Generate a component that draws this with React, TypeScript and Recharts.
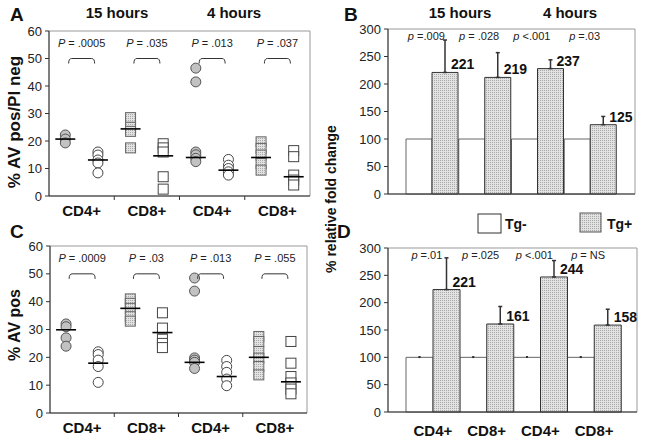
import React from "react";
import {
  ScatterChart,
  Scatter,
  BarChart,
  Bar,
  XAxis,
  YAxis,
  ErrorBar,
  LabelList,
  ReferenceDot,
  CartesianGrid,
} from "recharts";

const FONT = "'Liberation Sans', Arial, Helvetica, sans-serif";

// x categories (same for all four panels)
const groupLabels = ["CD4+", "CD8+", "CD4+", "CD8+"];
const timeLabels = ["15 hours", "4 hours"];

// A: % AV pos/PI neg, slots = Tg+ / Tg- for each group
const aValues = [
  [22.2, 20.7, 19.3],
  [16, 14.9, 13.1, 12, 8.4],
  [28.5, 25, 23.5, 17.5],
  [19, 17.5, 16, 7, 2.5],
  [46.5, 41.5, 16, 15, 13.7, 12.5],
  [13.3, 11.2, 10, 8.8, 7.6],
  [19.7, 17.3, 14.9, 11.8, 9.4],
  [16.5, 14.3, 7.6, 5.8, 4],
];
const aMeans = [20.7, 13.1, 24.4, 14.6, 14, 9.4, 14, 7];
const aPText = ["= .0005", "= .035", "= .013", "= .037"];

// C: % AV pos
const cValues = [
  [32, 31, 27, 24],
  [22, 21, 19, 16.7, 11],
  [41, 39.4, 37.6, 34.6, 33],
  [36, 30.5, 26.5, 25, 23.5],
  [48.5, 43.8, 19.8, 19, 18.2, 16],
  [18.9, 16.7, 14.6, 12.2, 9.8],
  [27.5, 25.7, 22.1, 19.7, 16.7, 13.7],
  [25.7, 17.9, 13.1, 10.8, 8.6, 6.9],
];
const cMeans = [29.9, 17.9, 37.6, 28.9, 18.2, 13.1, 20, 11.2];
const cPText = ["= .0009", "= .03", "= .013", "= .055"];

// B: % relative fold change (AV pos/PI neg)
const bTgNeg = [100, 100, 100, 100];
const bTgPos = [221, 212, 228, 126];
const bTgPosErr = [59, 45, 16, 15];
const bLabels = ["221", "219", "237", "125"];
const bPText = ["=.009", "= .028", "<.001", "=.03"];

// D: % relative fold change (AV pos)
const dTgNeg = [100, 100, 100, 100];
const dTgNegErr = [1, 1, 1, 1];
const dTgPos = [224, 161, 247, 159];
const dTgPosErr = [58, 32, 30, 29];
const dLabels = ["221", "161", "244", "158"];
const dPText = ["=.01", "=.025", "<.001", "= NS"];

const bracketY = 50;
const pBarY = 287;

const catKeys = groupLabels.map((g, i) => `${g}|${i}`);

function Dots({ id }: { id: string }) {
  return (
    <defs>
      <pattern id={id} width={2} height={2} patternUnits="userSpaceOnUse">
        <rect width={2} height={2} fill="#e2e2e2" />
        <rect width={1} height={1} fill="#aaa" />
      </pattern>
    </defs>
  );
}

const boxH = ({ offset }: any) =>
  offset ? [offset.top, offset.top + offset.height] : [];
const boxV = ({ offset }: any) =>
  offset ? [offset.left, offset.left + offset.width] : [];

function PLabel({ cx, cy, sym, text }: any) {
  return (
    <text
      x={cx}
      y={cy}
      textAnchor="middle"
      dominantBaseline="central"
      fontSize={11}
      fill="#222"
      fontFamily={FONT}
    >
      <tspan fontStyle="italic">{sym}</tspan>
      {" " + text}
    </text>
  );
}

function Bracket({ cx, cy, text }: any) {
  return (
    <g>
      <path
        d={`M${cx - 13},${cy + 5} Q${cx - 13},${cy} ${cx - 10},${cy} L${cx + 10},${cy} Q${cx + 13},${cy} ${cx + 13},${cy + 5}`}
        fill="none"
        stroke="#333"
        strokeWidth={1}
      />
      <PLabel cx={cx} cy={cy - 16} sym="P" text={text} />
    </g>
  );
}

const shapes = [
  (p: any) => <circle cx={p.cx} cy={p.cy} r={5} fill="#c2c2c2" stroke="#555" />,
  (p: any) => <circle cx={p.cx} cy={p.cy} r={5} fill="#fff" stroke="#444" />,
  (p: any) => (
    <rect x={p.cx - 5} y={p.cy - 5} width={10} height={10} fill="url(#dotsPt)" stroke="#666" />
  ),
  (p: any) => (
    <rect x={p.cx - 5} y={p.cy - 5} width={10} height={10} fill="#fff" stroke="#444" />
  ),
];

const MeanBar = (p: any) => (
  <line x1={p.cx - 10} x2={p.cx + 10} y1={p.cy} y2={p.cy} stroke="#000" strokeWidth={1.6} />
);

function DotPanel({ values, means, pText, width, height, margin, yWidth, xHeight, labelDy }: any) {
  const slots = values.length;
  const series = shapes.map((_, k) =>
    values.flatMap((vals: number[], s: number) =>
      s % 4 === k ? vals.map((v) => ({ x: s + 0.5, y: v })) : []
    )
  );
  const meanData = means.map((m: number, s: number) => ({ x: s + 0.5, y: m }));
  const xTicks = Array.from({ length: slots + 1 }, (_, i) => i);

  const tick = ({ x, y, payload }: any) => {
    const v = payload.value;
    if (v % 2 === 1)
      return (
        <text x={x} y={y + labelDy} textAnchor="middle" fontWeight="bold" fontSize={15} fill="#111" fontFamily={FONT}>
          {groupLabels[(v - 1) / 2]}
        </text>
      );
    if (v > 0 && v < slots) return <line x1={x} x2={x} y1={y} y2={y + 4} stroke="#333" />;
    return <g />;
  };

  return (
    <ScatterChart width={width} height={height} margin={margin}>
      <Dots id="dotsPt" />
      <CartesianGrid
        stroke="#999"
        horizontalCoordinatesGenerator={boxH}
        verticalCoordinatesGenerator={boxV}
      />
      <XAxis
        type="number"
        dataKey="x"
        domain={[0, slots]}
        ticks={xTicks}
        interval={0}
        tick={tick}
        tickLine={false}
        tickSize={0}
        tickMargin={0}
        stroke="#333"
        height={xHeight}
      />
      <YAxis
        type="number"
        dataKey="y"
        domain={[0, 60]}
        ticks={[0, 10, 20, 30, 40, 50, 60]}
        width={yWidth}
        tickSize={4}
        tickMargin={3}
        stroke="#333"
        tick={{ fontSize: 13, fill: "#222", fontFamily: FONT }}
      />
      {series.map((data, k) => (
        <Scatter key={k} data={data} shape={shapes[k]} isAnimationActive={false} />
      ))}
      <Scatter data={meanData} shape={MeanBar} isAnimationActive={false} />
      {pText.map((t: string, i: number) => (
        <ReferenceDot
          key={i}
          x={i * 2 + 1}
          y={bracketY}
          r={0}
          shape={(p: any) => <Bracket cx={p.cx} cy={p.cy} text={t} />}
        />
      ))}
    </ScatterChart>
  );
}

function BarPanel({ id, neg, negErr, pos, posErr, labels, pText, showX, width, height, margin, xHeight, padRight }: any) {
  const data = catKeys.map((key, i) => ({
    key,
    neg: neg[i],
    negErr: negErr ? [0, negErr[i]] : undefined,
    pos: pos[i],
    posErr: [0, posErr[i]],
    label: labels[i],
  }));

  const ValueLabel = (p: any) => (
    <text
      x={p.x + p.width / 2 + 6}
      y={p.y - 3}
      fontWeight="bold"
      fontSize={14}
      fill="#111"
      fontFamily={FONT}
    >
      {p.value}
    </text>
  );

  const tick = ({ x, y, payload }: any) => (
    <text x={x} y={y + 24} textAnchor="middle" fontWeight="bold" fontSize={15} fill="#111" fontFamily={FONT}>
      {String(payload.value).split("|")[0]}
    </text>
  );

  return (
    <BarChart width={width} height={height} data={data} margin={margin} barCategoryGap={0} barGap={0}>
      <Dots id={id} />
      <CartesianGrid
        stroke="#999"
        horizontalCoordinatesGenerator={boxH}
        verticalCoordinatesGenerator={boxV}
      />
      <XAxis
        dataKey="key"
        tick={showX ? tick : false}
        tickLine={false}
        tickSize={0}
        tickMargin={0}
        stroke="#333"
        height={xHeight}
        padding={{ left: 18, right: padRight }}
        interval={0}
      />
      <YAxis
        domain={[0, 300]}
        ticks={[0, 50, 100, 150, 200, 250, 300]}
        width={68}
        tickSize={4}
        tickMargin={3}
        stroke="#333"
        tick={{ fontSize: 13, fill: "#222", fontFamily: FONT }}
      />
      <Bar dataKey="neg" fill="#fff" stroke="#666" isAnimationActive={false}>
        {negErr && <ErrorBar dataKey="negErr" width={1} stroke="#333" direction="y" />}
      </Bar>
      <Bar dataKey="pos" fill={`url(#${id})`} stroke="#333" isAnimationActive={false}>
        <ErrorBar dataKey="posErr" width={2} stroke="#333" direction="y" />
        <LabelList dataKey="label" content={ValueLabel} />
      </Bar>
      {pText.map((t: string, i: number) => (
        <ReferenceDot
          key={i}
          x={catKeys[i]}
          y={pBarY}
          r={0}
          shape={(p: any) => <PLabel cx={p.cx - 6} cy={p.cy} sym="p" text={t} />}
        />
      ))}
    </BarChart>
  );
}

export default function App() {
  const bold = { fontWeight: "bold", fill: "#111", fontFamily: FONT } as any;
  return (
    <div
      style={{
        position: "absolute",
        left: 0,
        top: 0,
        width: 645,
        height: 445,
        background: "#fff",
        fontFamily: FONT,
      }}
    >
      <div style={{ position: "absolute", left: 0, top: 0 }}>
        <DotPanel
          values={aValues}
          means={aMeans}
          pText={aPText}
          width={320}
          height={220}
          margin={{ top: 31, right: 10, bottom: 0, left: 0 }}
          yWidth={49}
          xHeight={24}
          labelDy={20}
        />
      </div>
      <div style={{ position: "absolute", left: 0, top: 220 }}>
        <DotPanel
          values={cValues}
          means={cMeans}
          pText={cPText}
          width={320}
          height={225}
          margin={{ top: 26, right: 13, bottom: 0, left: 0 }}
          yWidth={50}
          xHeight={32}
          labelDy={20}
        />
      </div>
      <div style={{ position: "absolute", left: 320, top: 0 }}>
        <BarPanel
          id="dotsB"
          neg={bTgNeg}
          pos={bTgPos}
          posErr={bTgPosErr}
          labels={bLabels}
          pText={bPText}
          showX={false}
          width={325}
          height={220}
          margin={{ top: 29, right: 10, bottom: 0, left: 0 }}
          xHeight={26}
          padRight={18}
        />
      </div>
      <div style={{ position: "absolute", left: 320, top: 220 }}>
        <BarPanel
          id="dotsD"
          neg={dTgNeg}
          negErr={dTgNegErr}
          pos={dTgPos}
          posErr={dTgPosErr}
          labels={dLabels}
          pText={dPText}
          showX={true}
          width={325}
          height={225}
          margin={{ top: 28, right: 8, bottom: 0, left: 0 }}
          xHeight={33}
          padRight={16}
        />
      </div>
      <svg
        width={645}
        height={445}
        style={{ position: "absolute", left: 0, top: 0, pointerEvents: "none" }}
      >
        <defs>
          <pattern id="dotsLg" width={2} height={2} patternUnits="userSpaceOnUse">
            <rect width={2} height={2} fill="#e2e2e2" />
            <rect width={1} height={1} fill="#aaa" />
          </pattern>
        </defs>
        <text x={10} y={21} fontSize={19} {...bold}>A</text>
        <text x={344} y={21} fontSize={19} {...bold}>B</text>
        <text x={10} y={238} fontSize={19} {...bold}>C</text>
        <text x={337} y={238} fontSize={19} {...bold}>D</text>
        <text x={117} y={18} fontSize={15} textAnchor="middle" {...bold}>{timeLabels[0]}</text>
        <text x={234} y={18} fontSize={15} textAnchor="middle" {...bold}>{timeLabels[1]}</text>
        <text x={460} y={18} fontSize={15} textAnchor="middle" {...bold}>{timeLabels[0]}</text>
        <text x={570} y={18} fontSize={15} textAnchor="middle" {...bold}>{timeLabels[1]}</text>
        <text
          x={14}
          y={122}
          fontSize={17}
          textAnchor="middle"
          dominantBaseline="central"
          transform="rotate(-90 14 122)"
          {...bold}
        >
          % AV pos/PI neg
        </text>
        <text
          x={14}
          y={325}
          fontSize={16}
          textAnchor="middle"
          dominantBaseline="central"
          transform="rotate(-90 14 325)"
          {...bold}
        >
          % AV pos
        </text>
        <text
          x={331}
          y={199}
          fontSize={14}
          textAnchor="middle"
          dominantBaseline="central"
          transform="rotate(-90 331 199)"
          {...bold}
        >
          % relative fold change
        </text>
        <rect x={478} y={214} width={23} height={19} fill="#fff" stroke="#333" />
        <text x={505} y={229} fontSize={14} {...bold}>Tg-</text>
        <rect x={580} y={213} width={21} height={19} fill="url(#dotsLg)" stroke="#555" />
        <text x={607} y={229} fontSize={14} {...bold}>Tg+</text>
      </svg>
    </div>
  );
}
